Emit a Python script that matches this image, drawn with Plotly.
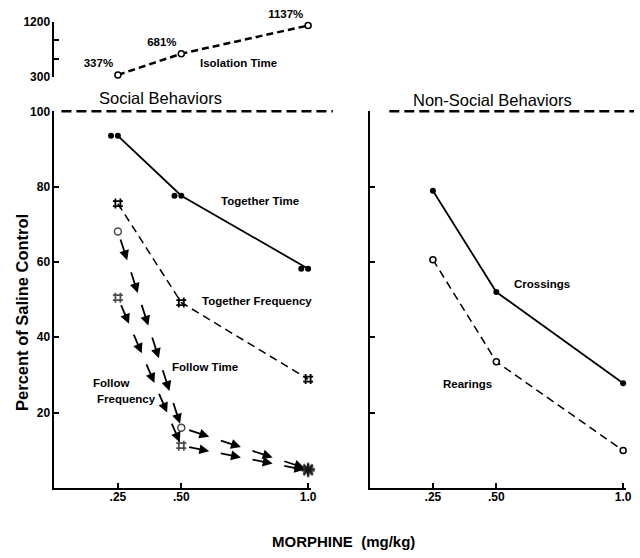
import plotly.graph_objects as go

# ---------------- data ----------------
dose = [0.25, 0.5, 1.0]
dose_ticktext = ['.25', '.50', '1.0']

together_time = [93.5, 77.6, 58.2]
together_freq = [75.5, 49.2, 28.9]
follow_time = [68.1, 16.0, 5.0]
follow_freq = [50.5, 11.2, 4.6]

crossings = [78.9, 52.0, 27.8]
rearings = [60.6, 33.5, 9.9]

isolation = [337, 681, 1137]
isolation_text = ['337%', '681%', '1137%']

pct_ticks = [20, 40, 60, 80, 100]
pct_ticktext = ['20', '40', '60', '80', '100']
iso_ticks = [300, 600, 900, 1200]
iso_ticktext = ['300', '', '', '1200']

# ---------------- helpers ----------------
W, H = 640, 558
FONT = 'Liberation Sans'


def px(x):
    return x / W


def py(y):
    return 1 - y / H


def arrow_anns(xs, ys, counts, xref, yref):
    anns = []
    for i, n in enumerate(counts):
        x0, y0, x1, y1 = xs[i], ys[i], xs[i + 1], ys[i + 1]
        for j in range(n):
            ts = (j + 0.2) / n
            te = (j + 0.88) / n
            anns.append(dict(
                x=x0 + (x1 - x0) * te, y=y0 + (y1 - y0) * te,
                ax=x0 + (x1 - x0) * ts, ay=y0 + (y1 - y0) * ts,
                xref=xref, yref=yref, axref=xref, ayref=yref,
                text='', showarrow=True, arrowhead=2, arrowsize=1.1,
                arrowwidth=1.8, arrowcolor='black', standoff=0, startstandoff=0))
    return anns


def label(text, x, y, size=11.5, bold=True, xanchor='center', angle=0):
    return dict(text=text, x=px(x), y=py(y), xref='paper', yref='paper',
                xanchor=xanchor, yanchor='middle', showarrow=False, textangle=angle,
                font=dict(family=FONT, size=size, color='black',
                          weight='bold' if bold else 'normal'))


fig = go.Figure()

# Together Time (solid, doubled filled dots)
fig.add_trace(go.Scatter(x=dose, y=together_time, mode='lines+markers', xaxis='x', yaxis='y',
                         line=dict(color='black', width=1.8),
                         marker=dict(symbol='circle', size=6, color='black'), cliponaxis=False))
fig.add_trace(go.Scatter(x=[d - 0.027 for d in dose], y=together_time, mode='markers', xaxis='x', yaxis='y',
                         marker=dict(symbol='circle', size=6, color='black'), cliponaxis=False))

# Together Frequency (dashed, hash)
fig.add_trace(go.Scatter(x=dose, y=together_freq, mode='lines+markers', xaxis='x', yaxis='y',
                         line=dict(color='black', width=1.5, dash='8px,5px'),
                         marker=dict(symbol='hash-open', size=10, color='black',
                                     line=dict(color='black', width=1.8)), cliponaxis=False))

# Follow Time (arrows, open circles)
fig.add_trace(go.Scatter(x=dose, y=follow_time, mode='markers', xaxis='x', yaxis='y',
                         marker=dict(symbol=['circle', 'circle', 'asterisk-open'], size=[7, 7, 11],
                                     color=['white', 'white', 'black'],
                                     line=dict(color='black', width=[1.5, 1.5, 2.4])), cliponaxis=False))

# Follow Frequency (arrows, hash)
fig.add_trace(go.Scatter(x=dose, y=follow_freq, mode='markers', xaxis='x', yaxis='y',
                         marker=dict(symbol=['hash-open', 'hash-open', 'asterisk-open'], size=[10, 10, 11],
                                     color='black',
                                     line=dict(color='black', width=[1.8, 1.8, 2.4])), cliponaxis=False))

# Crossings
fig.add_trace(go.Scatter(x=dose, y=crossings, mode='lines+markers', xaxis='x2', yaxis='y2',
                         line=dict(color='black', width=1.8),
                         marker=dict(symbol='circle', size=6, color='black'), cliponaxis=False))
# Rearings
fig.add_trace(go.Scatter(x=dose, y=rearings, mode='lines+markers', xaxis='x2', yaxis='y2',
                         line=dict(color='black', width=1.5, dash='8px,5px'),
                         marker=dict(symbol='circle', size=6, color='white',
                                     line=dict(color='black', width=1.5)), cliponaxis=False))

# Isolation Time (top)
fig.add_trace(go.Scatter(x=dose, y=isolation, mode='lines+markers+text', xaxis='x3', yaxis='y3',
                         text=isolation_text, textposition='top left',
                         textfont=dict(family=FONT, size=11.5, color='black', weight='bold'),
                         line=dict(color='black', width=2.5, dash='7px,4px'),
                         marker=dict(symbol='circle', size=6, color='white',
                                     line=dict(color='black', width=1.5)), cliponaxis=False))

axis_common = dict(showline=True, linecolor='black', linewidth=2, ticks='inside', ticklen=5,
                   tickwidth=2, tickcolor='black', showgrid=False, zeroline=False,
                   tickfont=dict(family=FONT, size=12, color='black', weight='bold'))

bot_dom = [py(493.25), py(107)]
left_dom = [px(55), px(313.6)]
right_dom = [px(373), px(631.6)]

annotations = []
annotations += arrow_anns(dose, follow_time, [6, 4], 'x', 'y')
annotations += arrow_anns(dose, follow_freq, [5, 4], 'x', 'y')
annotations += [
    label('Together Time', 262, 199),
    label('Together Frequency', 259, 302),
    label('Follow Time', 207, 369),
    label('Follow', 92, 386, xanchor='left'),
    label('Frequency', 96, 402, xanchor='left'),
    label('Crossings', 547, 284),
    label('Rearings', 472, 387),
    label('Isolation Time', 241, 57),
    label('Social Behaviors', 162, 93, size=16.5, bold=False),
    label('Non-Social Behaviors', 497, 95, size=16.5, bold=False),
    label('MORPHINE  (mg/kg)', 347, 548, size=15),
    label('Percent of Saline Control', 22, 313, size=16.5, angle=-90),
]

shapes = [
    dict(type='line', xref='paper', yref='y domain', x0=px(62), x1=px(336), y0=1, y1=1,
         line=dict(color='black', width=2.5, dash='10px,5px')),
    dict(type='line', xref='paper', yref='y2 domain', x0=px(393), x1=px(640), y0=1, y1=1,
         line=dict(color='black', width=2.5, dash='10px,5px')),
]

fig.update_layout(
    width=W, height=H, margin=dict(l=0, r=0, t=0, b=0),
    paper_bgcolor='white', plot_bgcolor='white', showlegend=False,
    xaxis=dict(axis_common, domain=left_dom, range=[0, 1.01], tickvals=dose, ticktext=dose_ticktext,
               anchor='y', ticklabelstandoff=-3),
    yaxis=dict(axis_common, domain=bot_dom, range=[0, 100], tickvals=pct_ticks, ticktext=pct_ticktext, anchor='x'),
    xaxis2=dict(axis_common, domain=right_dom, range=[0, 1.01], tickvals=dose, ticktext=dose_ticktext,
                anchor='y2', ticklabelstandoff=-3),
    yaxis2=dict(axis_common, domain=bot_dom, range=[0, 100], tickvals=pct_ticks, showticklabels=False, anchor='x2'),
    xaxis3=dict(domain=left_dom, range=[0, 1.01], visible=False, anchor='y3'),
    yaxis3=dict(axis_common, domain=[py(72), py(15)], range=[300, 1200], tickvals=iso_ticks,
                ticktext=iso_ticktext, anchor='x3'),
    annotations=annotations, shapes=shapes,
)

fig.write_html('out.html', config={'displayModeBar': False},
               post_script="document.body.style.margin='0';document.body.style.padding='0';"
                           "document.body.style.overflow='hidden';")
